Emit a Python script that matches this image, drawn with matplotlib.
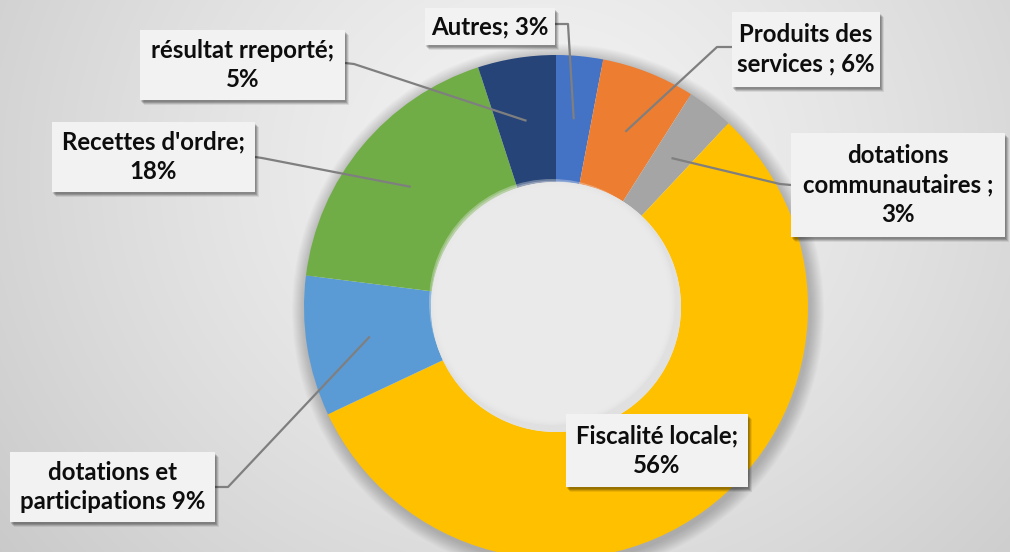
import numpy as np
import matplotlib
matplotlib.use("Agg")
import matplotlib.pyplot as plt
from matplotlib.patches import Rectangle, Circle, Wedge

# ---- data ----
categories = ["Autres", "Produits des services", "dotations communautaires",
              "Fiscalité locale", "dotations et participations",
              "Recettes d'ordre", "résultat rreporté"]
values = [3, 6, 3, 56, 9, 18, 5]
label_texts = ["Autres; 3%", "Produits des\nservices ; 6%",
               "dotations\ncommunautaires ;\n3%", "Fiscalité locale;\n56%",
               "dotations et\nparticipations 9%", "Recettes d'ordre;\n18%",
               "résultat rreporté;\n5%"]
colors = ["#4472C4", "#ED7D31", "#A5A5A5", "#FFC000", "#5B9BD5", "#70AD47", "#264478"]

W, H = 1010, 552
fig = plt.figure(figsize=(W / 100, H / 100), dpi=100)
ax = fig.add_axes([0, 0, 1, 1])

def Y(y):  # image-space y -> data y
    return H - y

# background radial gradient
xx, yy = np.meshgrid(np.arange(W), np.arange(H))
d = np.sqrt((xx - 540) ** 2 + ((yy - 170) * 1.1) ** 2) / 720.0
d = np.clip(d, 0, 1)
c0, c1 = np.array([0.955, 0.955, 0.955]), np.array([0.78, 0.78, 0.78])
img = c0[None, None, :] * (1 - d[..., None] ** 1.3) + c1[None, None, :] * (d[..., None] ** 1.3)
ax.imshow(img, extent=[0, W, 0, H], origin="upper", zorder=0, aspect="auto")

cx, cy = 556, 307
R, Rin = 252, 125

# soft shadow around the ring (annulus only)
for i in range(14):
    rr = R + 14 - i
    ax.add_patch(Wedge((cx + 2, Y(cy) - 3), rr, 0, 360, width=rr - R + 6,
                       color="black", alpha=0.014, lw=0, zorder=1))

wedges, _ = ax.pie(values, colors=colors, startangle=90, counterclock=False,
                   center=(cx, Y(cy)), radius=R, frame=True,
                   wedgeprops=dict(width=R - Rin, linewidth=0))
for w in wedges:
    w.set_zorder(2)

# hole: light fill with subtle inner shading
ax.add_patch(Circle((cx, Y(cy)), Rin, color="#e0e0e0", lw=0, zorder=2))
for i in range(10):
    ax.add_patch(Circle((cx - 4 + i * 0.2, Y(cy) + 5 - i * 0.3), Rin - 2 - i * 1.5,
                        color="#ececec", alpha=0.35, lw=0, zorder=2))

ax.set_xlim(0, W)
ax.set_ylim(0, H)
ax.set_aspect("equal")
ax.axis("off")

# label boxes: (x0, y0, x1, y1) in image pixels
boxes = [(425, 8, 555, 45), (732, 12, 880, 87), (791, 133, 1005, 237),
         (566, 414, 748, 487), (10, 452, 215, 522), (52, 122, 255, 192),
         (140, 30, 345, 100)]
# leader path start + elbow (image px), None = no leader
leaders = [[(555, 24), (568, 24)], [(732, 47), (717, 47)], [(791, 185), (780, 184)],
           None, [(215, 487), (228, 487)], [(255, 157), (262, 158)], [(345, 63), (354, 64)]]

rmid = (R + Rin) / 2
for w, box, txt, lead in zip(wedges, boxes, label_texts, leaders):
    x0, y0, x1, y1 = box
    for k, a in [(5, 0.08), (4, 0.12), (3, 0.16), (2, 0.12)]:
        ax.add_patch(Rectangle((x0 + k - 1, Y(y1) - k), x1 - x0, y1 - y0,
                               facecolor="black", alpha=a, lw=0, zorder=5))
    ax.add_patch(Rectangle((x0, Y(y1)), x1 - x0, y1 - y0, facecolor="#f2f2f2",
                           edgecolor="none", zorder=6))
    ax.text((x0 + x1) / 2, Y((y0 + y1) / 2), txt, ha="center", va="center",
            fontsize=17.3, fontweight="bold", family="Lato", color="#0d0d0d",
            linespacing=1.34, zorder=7)
    if lead is not None:
        ang = np.deg2rad((w.theta1 + w.theta2) / 2)
        tx, ty = cx + rmid * np.cos(ang), Y(cy) + rmid * np.sin(ang)
        xs = [lead[0][0], lead[1][0], tx]
        ys = [Y(lead[0][1]), Y(lead[1][1]), ty]
        ax.plot(xs, ys, color="#7f7f7f", lw=1.6, zorder=4, solid_capstyle="butt")

fig.savefig("out.png", dpi=100)
